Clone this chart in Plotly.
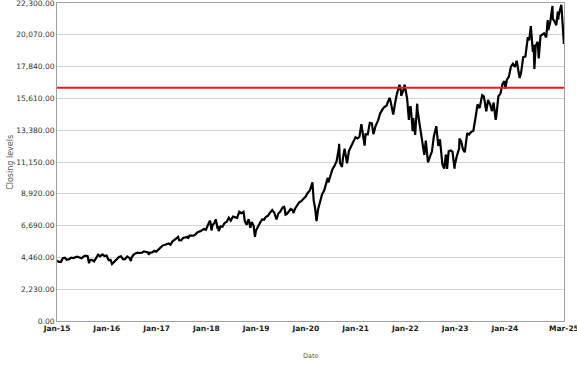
import plotly.graph_objects as go

dates = [
    "2015-01-02", "2015-01-15", "2015-01-30", "2015-02-13", "2015-02-27", "2015-03-13", "2015-03-31",
    "2015-04-15", "2015-04-30", "2015-05-15", "2015-05-29", "2015-06-15", "2015-06-30", "2015-07-15",
    "2015-07-31", "2015-08-14", "2015-08-24", "2015-08-31", "2015-09-15", "2015-09-30", "2015-10-15",
    "2015-10-30", "2015-11-13", "2015-11-30", "2015-12-15", "2015-12-31",
    "2016-01-15", "2016-01-29", "2016-02-09", "2016-02-29", "2016-03-15", "2016-03-31", "2016-04-15",
    "2016-04-29", "2016-05-13", "2016-05-31", "2016-06-15", "2016-06-27", "2016-06-30", "2016-07-15",
    "2016-07-29", "2016-08-15", "2016-08-31", "2016-09-15", "2016-09-30", "2016-10-14", "2016-10-31",
    "2016-11-04", "2016-11-15", "2016-11-30", "2016-12-15", "2016-12-30",
    "2017-01-13", "2017-01-31", "2017-02-15", "2017-02-28", "2017-03-15", "2017-03-31", "2017-04-13",
    "2017-04-28", "2017-05-15", "2017-05-31", "2017-06-08", "2017-06-15", "2017-06-30", "2017-07-14",
    "2017-07-31", "2017-08-15", "2017-08-18", "2017-08-31", "2017-09-15", "2017-09-29", "2017-10-13",
    "2017-10-31", "2017-11-15", "2017-11-30", "2017-12-15", "2017-12-29",
    "2018-01-12", "2018-01-26", "2018-01-31", "2018-02-08", "2018-02-15", "2018-02-28", "2018-03-12",
    "2018-03-23", "2018-03-29", "2018-04-02", "2018-04-16", "2018-04-30", "2018-05-15", "2018-05-31",
    "2018-06-15", "2018-06-29", "2018-07-16", "2018-07-31", "2018-08-15", "2018-08-31", "2018-09-14",
    "2018-09-28", "2018-10-01", "2018-10-11", "2018-10-24", "2018-10-31", "2018-11-08", "2018-11-20",
    "2018-11-30", "2018-12-14", "2018-12-24", "2018-12-31",
    "2019-01-15", "2019-01-31", "2019-02-15", "2019-02-28", "2019-03-15", "2019-03-29", "2019-04-15",
    "2019-04-30", "2019-05-15", "2019-05-31", "2019-06-14", "2019-06-28", "2019-07-15", "2019-07-26",
    "2019-07-31", "2019-08-05", "2019-08-15", "2019-08-30", "2019-09-13", "2019-09-30", "2019-10-02",
    "2019-10-15", "2019-10-31", "2019-11-15", "2019-11-29", "2019-12-13", "2019-12-31",
    "2020-01-15", "2020-01-31", "2020-02-19", "2020-02-28", "2020-03-09", "2020-03-16", "2020-03-20",
    "2020-03-31", "2020-04-15", "2020-04-30", "2020-05-15", "2020-05-29", "2020-06-10", "2020-06-15",
    "2020-06-30", "2020-07-15", "2020-07-31", "2020-08-14", "2020-08-31", "2020-09-02", "2020-09-08",
    "2020-09-23", "2020-09-30", "2020-10-12", "2020-10-30", "2020-11-13", "2020-11-30", "2020-12-15",
    "2020-12-31",
    "2021-01-15", "2021-01-29", "2021-02-12", "2021-02-26", "2021-03-08", "2021-03-15", "2021-03-31",
    "2021-04-15", "2021-04-30", "2021-05-12", "2021-05-28", "2021-06-15", "2021-06-30", "2021-07-15",
    "2021-07-30", "2021-08-16", "2021-08-31", "2021-09-07", "2021-09-15", "2021-09-30", "2021-10-04",
    "2021-10-15", "2021-10-29", "2021-11-19", "2021-11-30", "2021-12-01", "2021-12-15", "2021-12-27",
    "2021-12-31",
    "2022-01-14", "2022-01-27", "2022-01-31", "2022-02-09", "2022-02-24", "2022-02-28", "2022-03-14",
    "2022-03-29", "2022-03-31", "2022-04-14", "2022-04-29", "2022-05-11", "2022-05-20", "2022-05-31",
    "2022-06-16", "2022-06-30", "2022-07-15", "2022-07-29", "2022-08-16", "2022-08-31", "2022-09-12",
    "2022-09-30", "2022-10-13", "2022-10-25", "2022-10-31", "2022-11-03", "2022-11-15", "2022-11-30",
    "2022-12-13", "2022-12-28", "2022-12-30",
    "2023-01-13", "2023-01-31", "2023-02-02", "2023-02-15", "2023-02-28", "2023-03-13", "2023-03-31",
    "2023-04-14", "2023-04-28", "2023-05-15", "2023-05-31", "2023-06-15", "2023-06-30", "2023-07-19",
    "2023-07-31", "2023-08-18", "2023-08-31", "2023-09-15", "2023-09-29", "2023-10-11", "2023-10-26",
    "2023-10-31", "2023-11-15", "2023-11-30", "2023-12-15", "2023-12-29",
    "2024-01-05", "2024-01-16", "2024-01-31", "2024-02-15", "2024-02-29", "2024-03-15", "2024-03-28",
    "2024-04-19", "2024-04-30", "2024-05-15", "2024-05-31", "2024-06-18", "2024-06-28", "2024-07-10",
    "2024-07-25", "2024-07-31", "2024-08-05", "2024-08-15", "2024-08-30", "2024-09-06", "2024-09-19",
    "2024-09-30", "2024-10-15", "2024-10-31", "2024-11-11", "2024-11-15", "2024-11-29", "2024-12-16",
    "2024-12-18", "2024-12-31",
    "2025-01-13", "2025-01-24", "2025-01-27", "2025-01-31", "2025-02-19", "2025-02-28", "2025-03-04",
    "2025-03-07", "2025-03-10",
]

closes = [
    4230, 4140, 4150, 4400, 4440, 4290, 4334,
    4440, 4415, 4470, 4508, 4450, 4397, 4520,
    4588, 4550, 4050, 4274, 4280, 4182, 4400,
    4648, 4530, 4665, 4560, 4593,
    4270, 4280, 4000, 4202, 4370, 4484, 4540,
    4341, 4330, 4523, 4420, 4200, 4418, 4640,
    4731, 4800, 4771, 4790, 4875, 4830, 4801,
    4650, 4800, 4810, 4920, 4864,
    4990, 5118, 5300, 5330, 5380, 5436, 5350,
    5584, 5700, 5788, 5890, 5660, 5647, 5820,
    5880, 5900, 5780, 5988, 5990, 5979, 6080,
    6248, 6280, 6367, 6450, 6397,
    6690, 7020, 6950, 6350, 6720, 6854, 7130,
    6560, 6581, 6300, 6640, 6606, 6870, 6967,
    7240, 7040, 7320, 7272, 7230, 7657, 7560,
    7628, 7650, 6990, 6740, 6967, 7140, 6540,
    6949, 6690, 5900, 6330,
    6640, 6907, 7120, 7103, 7310, 7378, 7610,
    7781, 7590, 7127, 7540, 7671, 7960, 8010,
    7848, 7460, 7500, 7692, 7850, 7750, 7560,
    7890, 8083, 8330, 8403, 8520, 8733,
    8980, 9151, 9718, 8462, 7950, 7020, 7000,
    7813, 8390, 8890, 9150, 9555, 10040, 9720,
    10156, 10640, 10905, 11190, 12110, 12420, 11090,
    10800, 11418, 12090, 11052, 11940, 12268, 12600,
    12888,
    12800, 12925, 13800, 12909, 12300, 13100, 13091,
    13900, 13860, 13100, 13687, 14070, 14554, 14800,
    15000, 15100, 15583, 15650, 15400, 14690, 14470,
    15140, 15850, 16570, 16135, 15800, 16100, 16570,
    16320,
    15600, 14100, 14930, 15060, 13320, 14237, 13050,
    15240, 14839, 13900, 12855, 11950, 11650, 12643,
    11130, 11504, 11880, 12947, 13660, 12272, 12740,
    10971, 10690, 11670, 11406, 10660, 11900, 11951,
    11880, 10680, 10940,
    11540, 12102, 12800, 12580, 12042, 11830, 13182,
    13080, 13246, 13340, 14254, 15190, 14930, 15840,
    15758, 14700, 15501, 15200, 14715, 15320, 14110,
    14410, 15760, 15947, 16620, 16826,
    16300, 16900, 17137, 17840, 18044, 17810, 18254,
    17040, 17440, 18500, 18537, 19910, 19683, 20675,
    18870, 19363, 17680, 19300, 19575, 18420, 20000,
    20061, 20170, 19890, 21110, 20390, 20930, 22097,
    21210, 21012,
    20740, 21700, 21130, 21478, 22175, 20884, 20350,
    20200, 19430,
]

threshold = 16360

y_ticks = [0, 2230, 4460, 6690, 8920, 11150, 13380, 15610, 17840, 20070, 22300]
x_tick_dates = ["2015-01-01", "2016-01-01", "2017-01-01", "2018-01-01", "2019-01-01",
                "2020-01-01", "2021-01-01", "2022-01-01", "2023-01-01", "2024-01-01", "2025-03-10"]
x_tick_labels = ["Jan-15", "Jan-16", "Jan-17", "Jan-18", "Jan-19",
                 "Jan-20", "Jan-21", "Jan-22", "Jan-23", "Jan-24", "Mar-25"]

fig = go.Figure()
fig.add_trace(go.Scatter(x=dates, y=closes, mode="lines",
                         line=dict(color="black", width=2.2), showlegend=False))
fig.add_trace(go.Scatter(x=["2015-01-01", "2025-03-10 12:00"], y=[threshold, threshold], mode="lines",
                         line=dict(color="#e0201c", width=2), showlegend=False))

fig.update_layout(
    width=577, height=367,
    margin=dict(l=57, r=13, t=3, b=46),
    paper_bgcolor="white", plot_bgcolor="white",
    font=dict(family="DejaVu Sans", color="#333333"),
    annotations=[
        dict(text="Date", xref="paper", yref="paper", x=0.5, y=-0.11, yanchor="middle",
             showarrow=False, font=dict(size=6.5, color="#555555")),
        dict(text="Closing levels", xref="paper", yref="paper", x=-0.093, y=0.5,
             xanchor="center", yanchor="middle", textangle=-90,
             showarrow=False, font=dict(size=8, color="#555555")),
    ],
)
fig.update_xaxes(
    range=["2015-01-01", "2025-03-10 12:00"],
    tickvals=x_tick_dates, ticktext=x_tick_labels,
    tickfont=dict(size=7.5, color="#1a1a1a", weight="bold"), ticklabeloverflow="allow",
    showgrid=False, showline=True, linecolor="#a0a0a0", linewidth=1, mirror=True,
    ticks="", zeroline=False, automargin=False,
)
fig.update_yaxes(
    range=[-0.5, 22300.5],
    tickvals=y_ticks, tickformat=",.2f",
    tickfont=dict(size=7.5, color="#333333"), ticklabeloverflow="allow",
    showgrid=True, gridcolor="#d4d4d4", gridwidth=1,
    showline=True, linecolor="#a0a0a0", linewidth=1, mirror=True,
    ticks="", zeroline=False, automargin=False,
)

fig.write_html("out.html", config={"displayModeBar": False},
               post_script="document.body.style.margin='0';document.body.style.overflow='hidden';")
